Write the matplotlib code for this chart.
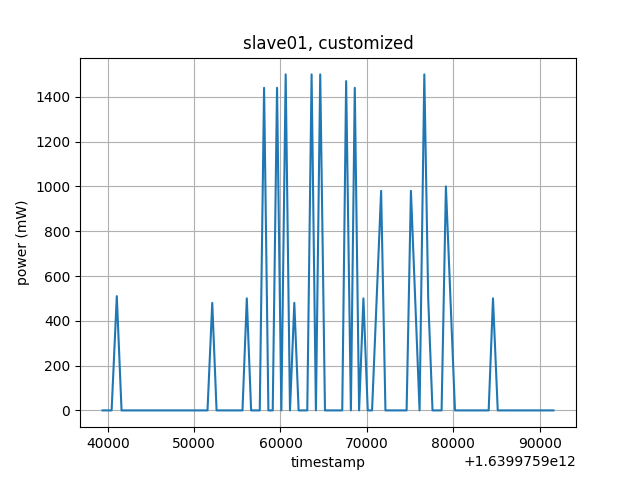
import matplotlib
matplotlib.use("Agg")
import matplotlib.pyplot as plt

OFFSET = 1.6399759e12

ts_rel = [39400, 40450, 41050, 41600, 51550, 52100, 52600, 55600, 56100, 56600,
          57600, 58100, 58600, 59100, 59600, 60100, 60600, 61100, 61600, 62100,
          63100, 63600, 64100, 64600, 65150, 67150, 67600, 68150, 68600, 69100,
          69600, 70100, 70600, 71650, 72150, 74600, 75100, 76100, 76650, 77100,
          77600, 78650, 79150, 80200, 84100, 84600, 85150, 91600]
power = [0, 0, 510, 0, 0, 480, 0, 0, 500, 0,
         0, 1440, 0, 0, 1440, 0, 1500, 0, 480, 0,
         0, 1500, 0, 1500, 0, 0, 1470, 0, 1440, 0,
         500, 0, 0, 980, 0, 0, 980, 0, 1500, 500,
         0, 0, 1000, 0, 0, 500, 0, 0]

timestamps = [OFFSET + t for t in ts_rel]

fig, ax = plt.subplots(figsize=(6.4, 4.8), dpi=100)
ax.plot(timestamps, power)
ax.set_title("slave01, customized")
ax.set_xlabel("timestamp")
ax.set_ylabel("power (mW)")
ax.grid(True)
plt.savefig("out.png")
